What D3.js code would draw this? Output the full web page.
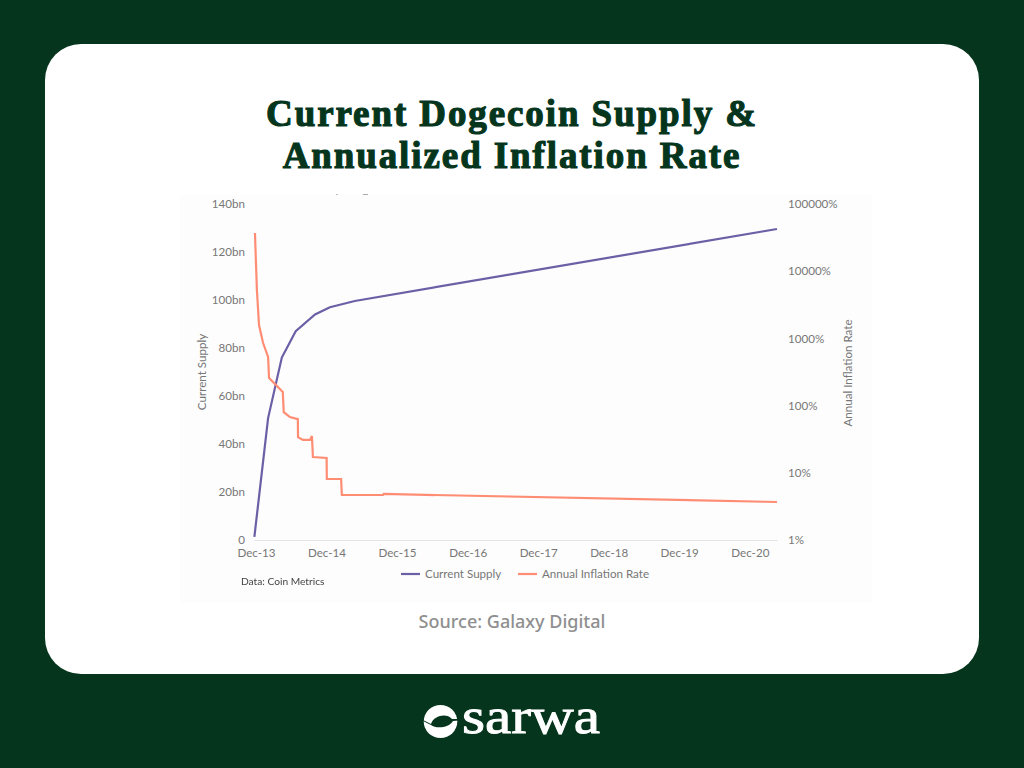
<!DOCTYPE html>
<html>
<head>
<meta charset="utf-8">
<script src="https://cdn.jsdelivr.net/npm/d3@7"></script>
<style>
  html, body { margin: 0; padding: 0; background: #05351c; }
  svg { display: block; }
  .axis text { font-family: Lato, sans-serif; font-size: 11.6px; fill: #777; }
  .axis path, .axis line { stroke: #e4e4e4; }
  .soft { filter: blur(0.4px); }
</style>
</head>
<body>
<svg id="chart" width="1024" height="768"></svg>
<script>
// Current supply, billions
const supplyDates = ["2013-12-03", "2014-02-12", "2014-04-24", "2014-07-05", "2014-10-13", "2014-12-29", "2015-05-07", "2021-05-01"];
const supplyValues = [1.3, 50.8, 76, 87, 94, 97, 99.6, 129.6];

// Annual inflation rate, percent
const inflationDates = [
  "2013-12-06", "2013-12-16", "2013-12-27", "2014-01-17", "2014-02-12", "2014-02-17",
  "2014-04-29", "2014-05-04", "2014-06-05", "2014-07-16", "2014-07-17", "2014-08-11",
  "2014-09-17", "2014-09-27", "2014-10-02", "2014-12-12", "2014-12-13", "2015-02-25",
  "2015-03-01", "2015-09-30", "2015-10-04", "2021-05-01"
];
const inflationValues = [
  37000, 5250, 1583, 854, 529, 257,
  159, 80, 67.6, 63, 34, 30.8,
  30.8, 35.3, 17.2, 16.6, 8.09, 8.09,
  4.67, 4.67, 4.84, 3.68
];

const supplyTicks = [0, 20, 40, 60, 80, 100, 120, 140];
const inflationTicks = [1, 10, 100, 1000, 10000, 100000];
const dateTicks = ["2013-12-01", "2014-12-01", "2015-12-01", "2016-12-01", "2017-12-01", "2018-12-01", "2019-12-01", "2020-12-01"];
const titleLines = ["Current Dogecoin Supply &", "Annualized Inflation Rate"];
const seriesNames = ["Current Supply", "Annual Inflation Rate"];

const GREEN = "#05351c";
const PURPLE = "#6b5fa6";
const ORANGE = "#ff8d74";

const svg = d3.select("#chart");
const parseDate = d3.utcParse("%Y-%m-%d");

// Card
svg.append("rect").attr("width", 1024).attr("height", 768).attr("fill", GREEN);
svg.append("rect")
  .attr("x", 45).attr("y", 44)
  .attr("width", 934).attr("height", 630)
  .attr("rx", 36)
  .attr("fill", "#fff");

// Title
svg.selectAll(".title")
  .data(titleLines)
  .join("text")
  .attr("class", "title")
  .attr("x", 512)
  .attr("y", (d, i) => 126 + i * 42)
  .attr("text-anchor", "middle")
  .attr("font-family", "'Liberation Serif', serif")
  .attr("font-weight", "bold")
  .attr("font-size", 37)
  .attr("letter-spacing", 1.9)
  .attr("fill", GREEN)
  .attr("stroke", GREEN)
  .attr("stroke-width", 1.1)
  .text(d => d);

// Chart
const g = svg.append("g").attr("class", "soft");
g.append("rect")
  .attr("x", 180).attr("y", 195)
  .attr("width", 692).attr("height", 408)
  .attr("fill", "#fdfdfd");

const x = d3.scaleUtc()
  .domain([parseDate("2013-12-01"), parseDate("2021-05-01")])
  .range([254, 777]);
const ySupply = d3.scaleLinear().domain([0, 140]).range([540, 204]);
const yInflation = d3.scaleLog().domain([1, 100000]).range([540, 204]);

const xAxis = g.append("g")
  .attr("class", "axis")
  .attr("transform", "translate(0,540)")
  .call(d3.axisBottom(x)
    .tickValues(dateTicks.map(parseDate))
    .tickFormat(d3.utcFormat("%b-%y"))
    .tickSize(0)
    .tickPadding(9));
xAxis.selectAll("text").attr("dx", 2);

const leftAxis = g.append("g")
  .attr("class", "axis")
  .attr("transform", "translate(254,0)")
  .call(d3.axisLeft(ySupply)
    .tickValues(supplyTicks)
    .tickFormat(d => d === 0 ? "0" : d + "bn")
    .tickSize(0)
    .tickPadding(9));
leftAxis.select(".domain").remove();

const rightAxis = g.append("g")
  .attr("class", "axis")
  .attr("transform", "translate(777,0)")
  .call(d3.axisRight(yInflation)
    .tickValues(inflationTicks)
    .tickFormat(d => d + "%")
    .tickSize(0)
    .tickPadding(11));
rightAxis.select(".domain").remove();

// Axis titles
g.append("text")
  .attr("transform", "translate(206,372) rotate(-90)")
  .attr("text-anchor", "middle")
  .attr("font-family", "Lato, sans-serif")
  .attr("font-size", 11.6)
  .attr("fill", "#777")
  .text("Current Supply");
g.append("text")
  .attr("transform", "translate(852,373) rotate(-90)")
  .attr("text-anchor", "middle")
  .attr("font-family", "Lato, sans-serif")
  .attr("font-size", 11.6)
  .attr("fill", "#777")
  .text("Annual Inflation Rate");

// Lines
const supplyData = supplyDates.map((d, i) => ({date: parseDate(d), value: supplyValues[i]}));
const inflationData = inflationDates.map((d, i) => ({date: parseDate(d), value: inflationValues[i]}));

g.append("path")
  .datum(supplyData)
  .attr("fill", "none")
  .attr("stroke", PURPLE)
  .attr("stroke-width", 2.2)
  .attr("d", d3.line().x(d => x(d.date)).y(d => ySupply(d.value)));
g.append("path")
  .datum(inflationData)
  .attr("fill", "none")
  .attr("stroke", ORANGE)
  .attr("stroke-width", 2.2)
  .attr("d", d3.line().x(d => x(d.date)).y(d => yInflation(d.value)));

// Legend
const legend = g.selectAll(".legend")
  .data(seriesNames)
  .join("g")
  .attr("class", "legend")
  .attr("transform", (d, i) => `translate(${i === 0 ? 401 : 518},574)`);
legend.append("line")
  .attr("x2", 19)
  .attr("stroke", (d, i) => i === 0 ? PURPLE : ORANGE)
  .attr("stroke-width", 2.2);
legend.append("text")
  .attr("x", 24).attr("y", 4)
  .attr("font-family", "Lato, sans-serif")
  .attr("font-size", 11.6)
  .attr("fill", "#777")
  .text(d => d);

g.append("text")
  .attr("x", 241).attr("y", 585)
  .attr("font-family", "Lato, sans-serif")
  .attr("font-size", 10.2)
  .attr("fill", "#444")
  .text("Data: Coin Metrics");

// Specks left over from the cropped source image
g.append("rect").attr("x", 336).attr("y", 194).attr("width", 2).attr("height", 1).attr("fill", "#bbb");
g.append("rect").attr("x", 363).attr("y", 194).attr("width", 5).attr("height", 1).attr("fill", "#aaa");

// Source
svg.append("text")
  .attr("x", 512).attr("y", 628)
  .attr("text-anchor", "middle")
  .attr("font-family", "'Noto Sans', sans-serif")
  .attr("font-weight", 500)
  .attr("font-size", 18)
  .attr("fill", "#8f8f8f")
  .text("Source: Galaxy Digital");

// Logo
const logo = svg.append("g");
logo.append("ellipse")
  .attr("cx", 440.5).attr("cy", 721.5).attr("rx", 16.8).attr("ry", 16.5)
  .attr("fill", "#fff");
logo.append("path")
  .attr("d", "M431 724 C434 715 447 713 452 719 L459 719 L459 720.5 L453 721 C449 728 436 729 431 725 L423 721 L423 720 Z")
  .attr("fill", GREEN);
logo.append("text")
  .attr("x", 462).attr("y", 733)
  .attr("font-family", "'Liberation Serif', serif")
  .attr("font-size", 50)
  .attr("textLength", 138)
  .attr("lengthAdjust", "spacingAndGlyphs")
  .attr("fill", "#fff")
  .attr("stroke", "#fff")
  .attr("stroke-width", 0.9)
  .text("sarwa");
</script>
</body>
</html>
